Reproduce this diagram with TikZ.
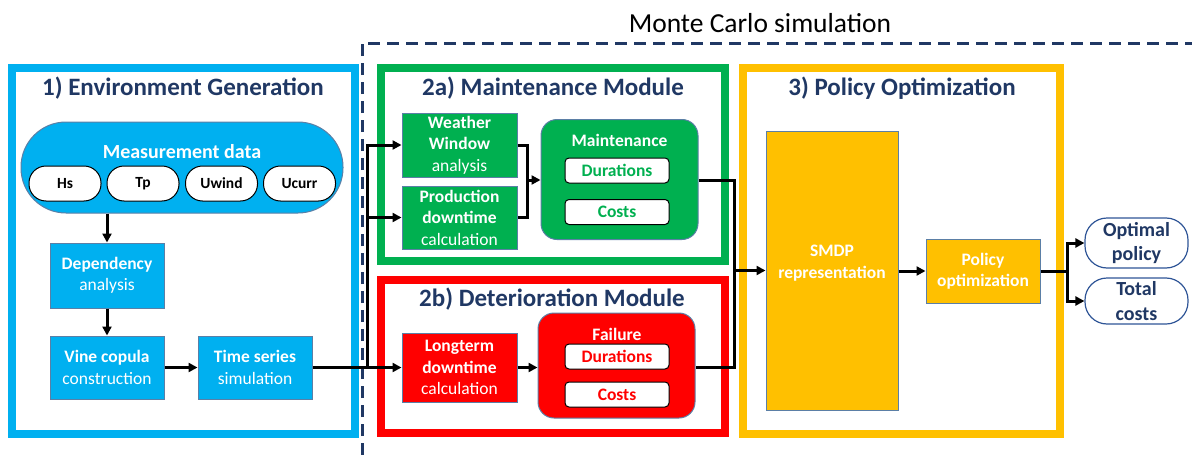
\documentclass[tikz,border=0pt]{standalone}
\usepackage{fontspec}
\setmainfont{Carlito}
\usetikzlibrary{arrows.meta}

\definecolor{envblue}{HTML}{00B0F0}
\definecolor{maingreen}{HTML}{00B050}
\definecolor{detred}{HTML}{FF0000}
\definecolor{polyellow}{HTML}{FFC000}
\definecolor{navy}{HTML}{203864}
\definecolor{pillblue}{HTML}{2F5597}
\definecolor{edgegray}{HTML}{5B7FA6}

\tikzset{
  frame/.style={line width=8pt},
  panelhead/.style={anchor=base, text=navy, font=\fontsize{25}{29}\selectfont\bfseries},
  box/.style={draw=edgegray, line width=1pt, fill=#1, text=white, align=center,
    inner sep=2pt, font=\fontsize{17.5}{21.5}\selectfont},
  outbox/.style={draw=edgegray, line width=1pt, fill=#1, rounded corners=16pt},
  tag/.style={draw=black, line width=1pt, fill=white, rounded corners=4pt,
    text=#1, font=\fontsize{17.5}{20}\selectfont\bfseries,
    minimum width=104pt, minimum height=25pt, inner sep=0pt},
  varpill/.style={draw=black, line width=1pt, fill=white, rounded corners=17pt,
    minimum width=72pt, minimum height=35pt, inner sep=0pt,
    font=\fontsize{15.5}{18}\selectfont\bfseries},
  result/.style={draw=pillblue, line width=1.2pt, fill=white, rounded corners=22pt,
    minimum width=103pt, inner sep=0pt, align=center, text=navy,
    font=\fontsize{20}{24.5}\selectfont\bfseries},
  conn/.style={line width=3pt, line join=miter},
  arr/.style={conn, -{Triangle[length=9pt,width=9pt]}},
}

\begin{document}
\begin{tikzpicture}[x=1pt, y=-1pt]
  \useasboundingbox (0,0) rectangle (1192,455);

  % Monte Carlo boundary and caption
  \draw[navy, line width=3pt, dash pattern=on 12pt off 7pt] (362,455) -- (362,43) -- (1192,43);
  \node[anchor=base, font=\fontsize{27.5}{32}\selectfont] (mctitle) at (760,32) {Monte Carlo simulation};

  % Panel frames
  \draw[frame, envblue]   (12,68)  rectangle (354.5,434);
  \draw[frame, maingreen] (381,68) rectangle (725,261);
  \draw[frame, detred]    (380.5,280) rectangle (724.5,433);
  \draw[frame, polyellow] (743,68) rectangle (1060,434);

  \node[panelhead] (t1)  at (183,95)  {1) Environment Generation};
  \node[panelhead] (t2a) at (553,95)  {2a) Maintenance Module};
  \node[panelhead] (t2b) at (552,306) {2b) Deterioration Module};
  \node[panelhead] (t3)  at (902,95)  {3) Policy Optimization};

  % 1) Environment generation
  \node[draw=edgegray, line width=1pt, fill=envblue, rounded corners=45pt,
        minimum width=322pt, minimum height=91pt] (meas) at (182,167.5) {};
  \node[anchor=base, text=white, font=\fontsize{20}{24}\selectfont\bfseries] (measlbl) at (182,158) {Measurement data};
  \node[varpill] (hs) at (65,183.5)    {Hs};
  \node[varpill] (tp) at (143,183.5)   {Tp};
  \node[varpill] (uw) at (221.5,183.5) {Uwind};
  \node[varpill] (uc) at (299.5,183.5) {Ucurr};

  \node[box=envblue, minimum width=114pt, minimum height=65pt] (dep)  at (107,275.5) {\textbf{Dependency}\\analysis};
  \node[box=envblue, minimum width=114pt, minimum height=63pt] (vine) at (107,367.5) {\textbf{Vine copula}\\construction};
  \node[box=envblue, minimum width=114pt, minimum height=63pt] (ts)   at (255,367.5) {\textbf{Time series}\\simulation};

  \draw[arr] (meas.south -| dep.north) -- (dep.north);
  \draw[arr] (dep.south) -- (vine.north);
  \draw[arr] (vine.east) -- (ts.west);

  % 2a) Maintenance module
  \node[box=maingreen, minimum width=115pt, minimum height=64pt] (ww) at (459.5,145)   {\textbf{Weather}\\\textbf{Window}\\analysis};
  \node[box=maingreen, minimum width=115pt, minimum height=63pt] (pd) at (459.5,217.5) {\textbf{Production}\\\textbf{downtime}\\calculation};
  \node[outbox=maingreen, minimum width=157pt, minimum height=120pt] (mt) at (619.5,179.5) {};
  \node[anchor=base, text=white, font=\fontsize{17.5}{20}\selectfont\bfseries] (mtlbl) at (619.5,146) {Maintenance};
  \node[tag=maingreen] (mtdur)  at (617,170.5) {Durations};
  \node[tag=maingreen] (mtcost) at (617,212)   {Costs};

  % 2b) Deterioration module
  \node[box=detred, minimum width=115pt, minimum height=69pt] (lt) at (459.5,367.5) {\textbf{Longterm}\\\textbf{downtime}\\calculation};
  \node[outbox=detred, minimum width=157pt, minimum height=105pt] (fl) at (616.5,365.5) {};
  \node[anchor=base, text=white, font=\fontsize{17.5}{20}\selectfont\bfseries] (fllbl) at (617,340) {Failure};
  \node[tag=detred] (fldur)  at (617,356.5) {Durations};
  \node[tag=detred] (flcost) at (617,394.5) {Costs};

  % 3) Policy optimization
  \node[box=polyellow, minimum width=132pt, minimum height=279pt] (smdp) at (832,270.5) {};
  \node[anchor=center, text=white, align=center, font=\fontsize{17.5}{22}\selectfont\bfseries] (smdplbl) at (832,263) {SMDP\\representation};
  \node[box=polyellow, minimum width=114pt, minimum height=64pt, font=\fontsize{17.5}{21.5}\selectfont\bfseries] (po) at (983,271) {Policy\\optimization};

  \node[result, minimum height=50pt] (opt) at (1136.5,243) {Optimal\\policy};
  \node[result, minimum height=46pt] (tot) at (1136.5,301) {Total\\costs};

  % Connectors between modules
  \coordinate (split) at (367,0);
  \coordinate (mergeA) at (527,0);
  \coordinate (mergeB) at (734,0);
  \coordinate (fork) at (1067,0);

  \draw[arr] (ts.east) -- (lt.west);
  \draw[arr] (split |- ts.east) |- (ww.west);
  \draw[arr] (split |- pd.west) -- (pd.west);

  \draw[conn] (ww.east) -| (mergeA |- pd.east) -- (pd.east);
  \draw[arr] (mergeA |- 0,180) -- (mt.west |- 0,180);
  \draw[arr] (lt.east) -- (fl.west |- lt.east);

  \draw[conn] (mt.east |- 0,180) -| (mergeB |- 0,367.5) -- (fl.east |- 0,367.5);
  \draw[arr] (mergeB |- smdp.west) -- (smdp.west);

  \draw[arr] (smdp.east |- po.west) -- (po.west);
  \draw[conn] (po.east) -- (fork |- po.east);
  \draw[arr] (fork |- po.east) |- (opt.west);
  \draw[arr] (fork |- po.east) |- (tot.west);
\end{tikzpicture}
\end{document}
